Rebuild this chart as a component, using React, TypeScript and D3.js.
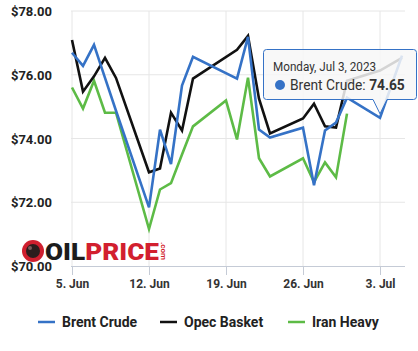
import React, { useEffect, useRef } from 'react';
import * as d3 from 'd3';

// Daily prices, Jun 5 - Jul 5 2023 (null = no quote that day)
const dates = [
  '2023-06-05', '2023-06-06', '2023-06-07', '2023-06-08', '2023-06-09',
  '2023-06-12', '2023-06-13', '2023-06-14', '2023-06-15', '2023-06-16',
  '2023-06-19', '2023-06-20', '2023-06-21', '2023-06-22', '2023-06-23',
  '2023-06-26', '2023-06-27', '2023-06-28', '2023-06-29', '2023-06-30',
  '2023-07-03', '2023-07-05',
];
const brentCrude = [
  76.69, 76.28, 76.94, 75.9, 74.87,
  71.84, 74.28, 73.2, 75.66, 76.56,
  null, 75.88, 77.19, 74.28, 74.03,
  74.34, 72.53, 74.25, 74.5, 75.28,
  74.65, 76.6,
];
const opecBasket = [
  77.09, 75.47, 75.95, 76.53, 75.9,
  72.94, 73.06, 74.81, 74.25, 75.88,
  null, 76.78, 77.22, 75.25, 74.16,
  74.63, 75.09, 74.38, 74.34, 75.81,
  76.13, 76.53,
];
const iranHeavy = [
  75.6, 74.94, 75.81, 74.81, 74.81,
  71.16, 72.4, 72.6, 73.5, 74.38,
  75.19, 73.97, 75.91, 73.38, 72.81,
  73.38, 72.63, 73.25, 72.78, 74.78,
  null, null,
];
const seriesNames = ['Brent Crude', 'Opec Basket', 'Iran Heavy'];
const seriesColors = ['#3572c6', '#111111', '#5dbb46'];
const yTicks = [70, 72, 74, 76, 78];
const xTicks = ['2023-06-05', '2023-06-12', '2023-06-19', '2023-06-26', '2023-07-03'];

const tooltipDate = 'Monday, Jul 3, 2023';
const tooltipIndex = 20; // Jul 3, Brent Crude

const WIDTH = 418;
const HEIGHT = 351;

const App: React.FC = () => {
  const svgRef = useRef<SVGSVGElement>(null);

  useEffect(() => {
    if (!svgRef.current) return;
    const svg = d3.select(svgRef.current);
    svg.selectAll('*').remove();

    const parse = d3.timeParse('%Y-%m-%d');
    const days = dates.map(d => parse(d) as Date);
    const font = 'Roboto, "Noto Sans", sans-serif';

    const plot = { left: 71, right: 405, top: 11, bottom: 266 };

    const x = d3
      .scaleTime()
      .domain([parse('2023-06-05') as Date, parse('2023-07-05') as Date])
      .range([72, 402]);
    const y = d3.scaleLinear().domain([70, 78]).range([plot.bottom, plot.top]);

    // Grid
    svg
      .append('g')
      .selectAll('line')
      .data(yTicks.slice(1))
      .join('line')
      .attr('x1', plot.left)
      .attr('x2', plot.right)
      .attr('y1', d => y(d))
      .attr('y2', d => y(d))
      .attr('stroke', '#e6e6e6')
      .attr('stroke-width', 1);

    const tickDates = xTicks.map(d => parse(d) as Date);
    svg
      .append('g')
      .selectAll('line')
      .data(tickDates)
      .join('line')
      .attr('x1', d => x(d))
      .attr('x2', d => x(d))
      .attr('y1', plot.top)
      .attr('y2', plot.bottom)
      .attr('stroke', '#e6e6e6')
      .attr('stroke-width', 1);

    // Y labels
    svg
      .append('g')
      .selectAll('text')
      .data(yTicks)
      .join('text')
      .attr('x', 52)
      .attr('y', d => y(d) + 5)
      .attr('text-anchor', 'end')
      .attr('font-family', font)
      .attr('font-size', 13)
      .attr('font-weight', 'bold')
      .attr('fill', '#222')
      .text(d => `$${d.toFixed(2)}`);

    // X axis
    const xAxis = d3
      .axisBottom(x)
      .tickValues(tickDates)
      .tickSize(9)
      .tickFormat(d => `${(d as Date).getDate()}. ${d3.timeFormat('%b')(d as Date)}`);

    const ax = svg
      .append('g')
      .attr('transform', `translate(0,${plot.bottom})`)
      .call(xAxis);
    ax.select('.domain')
      .attr('d', `M${plot.left},0.5H${plot.right}`)
      .attr('stroke', '#c5cbd6');
    ax.selectAll('.tick line').attr('stroke', '#c5cbd6');
    ax.selectAll('.tick text')
      .attr('y', 22)
      .attr('dy', 0)
      .attr('font-family', font)
      .attr('font-size', 12)
      .attr('font-weight', 'bold')
      .attr('fill', '#333');

    // Watermark logo
    const logo = svg.append('g');
    logo.append('circle').attr('cx', 33).attr('cy', 251).attr('r', 11).attr('fill', '#cf1f2e');
    logo.append('circle').attr('cx', 33).attr('cy', 251).attr('r', 7).attr('fill', '#2b1d1d');
    logo.append('circle').attr('cx', 30).attr('cy', 248).attr('r', 2).attr('fill', '#7a5a5a');
    const word = logo
      .append('text')
      .attr('x', 45)
      .attr('y', 260)
      .attr('font-family', font)
      .attr('font-size', 24)
      .attr('font-weight', 900)
      .attr('textLength', 114)
      .attr('lengthAdjust', 'spacingAndGlyphs');
    word.append('tspan').attr('fill', '#1c1c1c').text('OIL');
    word.append('tspan').attr('fill', '#d21f2f').text('PRICE');
    logo
      .append('text')
      .attr('transform', 'translate(161,242) rotate(90)')
      .attr('font-family', font)
      .attr('font-size', 8)
      .attr('font-weight', 'bold')
      .attr('fill', '#d21f2f')
      .text('.com');

    // Lines
    const allSeries = [brentCrude, opecBasket, iranHeavy];
    const line = d3
      .line<{ date: Date; value: number }>()
      .x(d => x(d.date))
      .y(d => y(d.value));

    // draw Brent last so it sits on top like the original
    [2, 1, 0].forEach(i => {
      const pts = allSeries[i]
        .map((v, j) => ({ date: days[j], value: v as number }))
        .filter((_, j) => allSeries[i][j] !== null);
      svg
        .append('path')
        .datum(pts)
        .attr('fill', 'none')
        .attr('stroke', seriesColors[i])
        .attr('stroke-width', 2.6)
        .attr('stroke-linejoin', 'miter')
        .attr('d', line);
    });

    // Tooltip
    const px = x(days[tooltipIndex]);
    const py = y(brentCrude[tooltipIndex] as number);
    const box = { x0: 263.5, x1: 416.5, y0: 49.5, y1: 99.5 };
    const r = 3;
    const tipPath =
      `M${box.x0 + r},${box.y0}H${box.x1 - r}Q${box.x1},${box.y0} ${box.x1},${box.y0 + r}` +
      `V${box.y1 - r}Q${box.x1},${box.y1} ${box.x1 - r},${box.y1}` +
      `H${px + 7}L${px},${py - 4}L${px - 7},${box.y1}` +
      `H${box.x0 + r}Q${box.x0},${box.y1} ${box.x0},${box.y1 - r}` +
      `V${box.y0 + r}Q${box.x0},${box.y0} ${box.x0 + r},${box.y0}Z`;
    svg
      .append('path')
      .attr('d', tipPath)
      .attr('fill', 'rgba(247,247,247,0.85)')
      .attr('stroke', seriesColors[0])
      .attr('stroke-width', 1);

    svg
      .append('text')
      .attr('transform', `translate(273,71) scale(0.9,1)`)
      .attr('font-family', font)
      .attr('font-size', 13)
      .attr('fill', '#333')
      .text(tooltipDate);
    svg
      .append('circle')
      .attr('cx', 280)
      .attr('cy', 85)
      .attr('r', 5)
      .attr('fill', seriesColors[0]);
    const t2 = svg
      .append('text')
      .attr('transform', `translate(290,90) scale(0.92,1)`)
      .attr('font-family', font)
      .attr('font-size', 15)
      .attr('fill', '#333');
    t2.append('tspan').text(`${seriesNames[0]}: `);
    t2.append('tspan')
      .attr('font-weight', 'bold')
      .text((brentCrude[tooltipIndex] as number).toFixed(2));

    // Legend
    const legendX = [38, 160, 288];
    const legend = svg.append('g');
    seriesNames.forEach((name, i) => {
      legend
        .append('line')
        .attr('x1', legendX[i])
        .attr('x2', legendX[i] + 17)
        .attr('y1', 322)
        .attr('y2', 322)
        .attr('stroke', seriesColors[i])
        .attr('stroke-width', 2.5);
      legend
        .append('text')
        .attr('x', legendX[i] + 24)
        .attr('y', 327)
        .attr('font-family', font)
        .attr('font-size', 14)
        .attr('font-weight', 'bold')
        .attr('fill', '#222')
        .text(name);
    });
  }, []);

  return (
    <div style={{ position: 'fixed', left: 0, top: 0, width: WIDTH, height: HEIGHT, background: '#fff' }}>
      <svg ref={svgRef} width={WIDTH} height={HEIGHT} />
    </div>
  );
};

export default App;
